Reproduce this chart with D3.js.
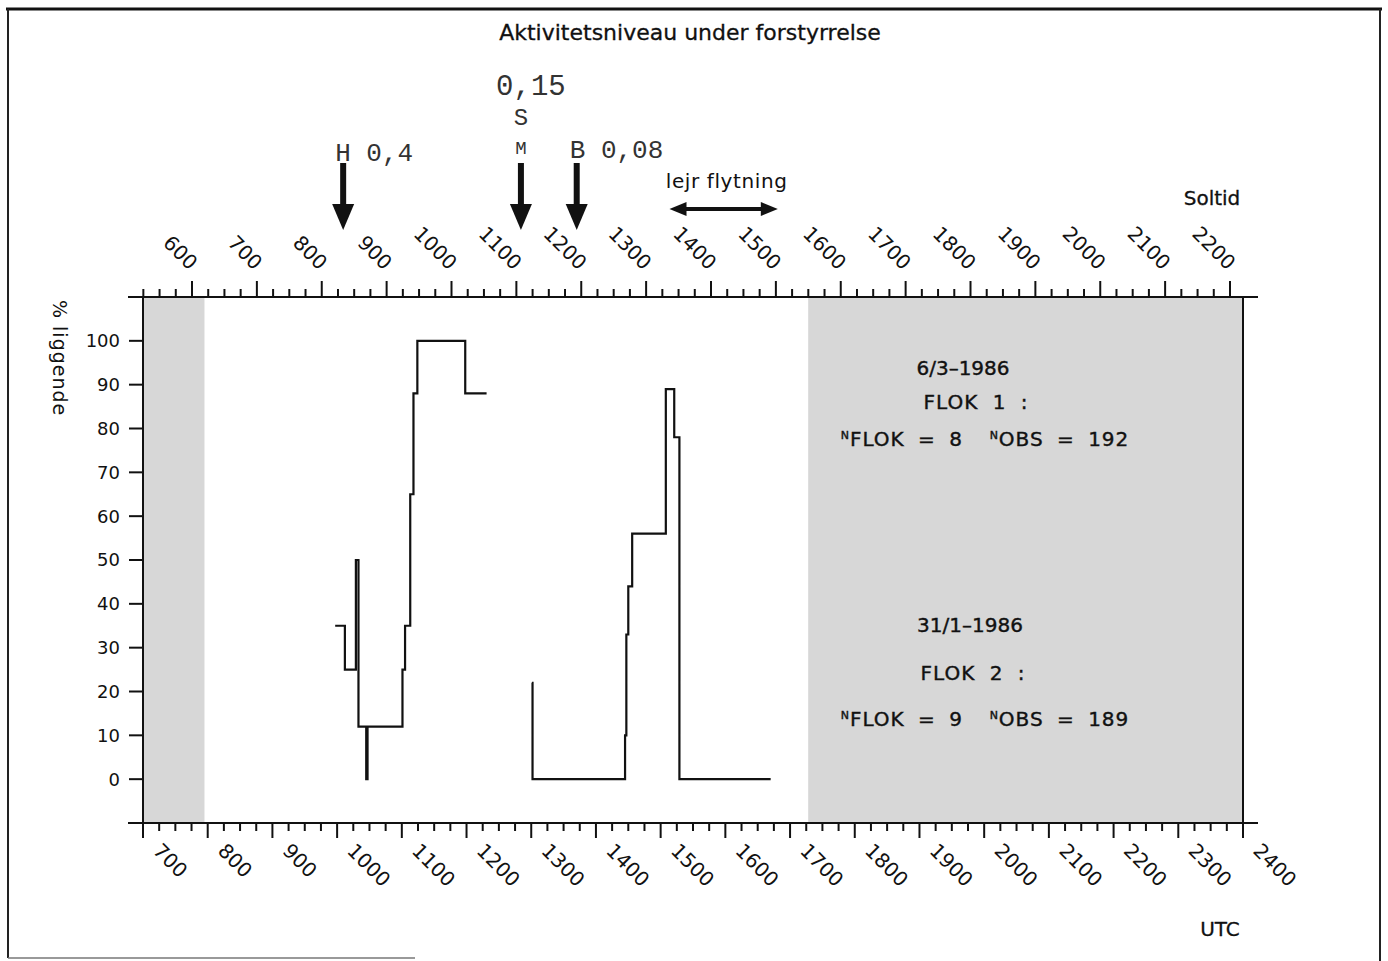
<!DOCTYPE html>
<html>
<head>
<meta charset="utf-8">
<script src="https://cdn.jsdelivr.net/npm/d3@7/dist/d3.min.js"></script>
<style>
  html, body { margin: 0; padding: 0; background: #fff; }
  svg { display: block; }
  text { font-family: "DejaVu Sans", sans-serif; fill: #111; }
</style>
</head>
<body>
<script>
// ---------- DATA ----------
const utcTicks = d3.range(700, 2401, 100);          // bottom axis labels (UTC)
const soltidTicks = d3.range(600, 2201, 100);       // top axis labels (Soltid)
const yTicks = d3.range(0, 101, 10);                // % liggende

// flock 1 step series (UTC time, % lying)
const timesA = [997, 1012, 1029, 1033, 1045, 1047, 1101, 1105, 1113, 1118, 1124, 1198, 1231];
const valuesA = [35, 25, 50, 12, 0, 12, 25, 35, 65, 88, 100, 88, 88];
// flock 2 step series
const timesB = [1301, 1302, 1445, 1447, 1450, 1456, 1508, 1521, 1529, 1670];
const valuesB = [22, 0, 10, 33, 44, 56, 89, 78, 0, 0];

// shaded (dark) periods, UTC
const nightStart = [700, 1728];
const nightEnd = [795, 2400];

// disturbance events (Soltid)
const eventTimes = [833, 1107, 1193];
const eventLabels = ["H 0,4", "", "B 0,08"];
// camp move interval (Soltid)
const campMove = [1336, 1503];

const infoLines1 = ["6/3\u20131986", "FLOK 1 :"];
const infoLines2 = ["31/1\u20131986", "FLOK 2 :"];
const flokN = [8, 9];
const obsN = [192, 189];

// ---------- LAYOUT ----------
const W = 1388, H = 961;
const svg = d3.select("body").append("svg").attr("width", W).attr("height", H);

const xB = d3.scaleLinear().domain([700, 2400]).range([143, 1243]);
const xT = d3.scaleLinear().domain([600, 2200]).range([192, 1230]);
const y = d3.scaleLinear().domain([-10, 110]).range([823, 297]);
const axTop = y(110), axBot = y(-10);

// frame
svg.append("line").attr("x1", 6).attr("x2", 1382).attr("y1", 9).attr("y2", 9).attr("stroke", "#111").attr("stroke-width", 3);
svg.append("line").attr("x1", 8).attr("x2", 8).attr("y1", 9).attr("y2", 958).attr("stroke", "#222").attr("stroke-width", 2);
svg.append("line").attr("x1", 1380).attr("x2", 1380).attr("y1", 9).attr("y2", 961).attr("stroke", "#222").attr("stroke-width", 2);
svg.append("line").attr("x1", 8).attr("x2", 415).attr("y1", 958).attr("y2", 958).attr("stroke", "#777").attr("stroke-width", 1.5);

// title
svg.append("text").attr("x", 690).attr("y", 40).attr("text-anchor", "middle")
  .style("font-size", "22px").style("stroke", "#111").style("stroke-width", "0.3px")
  .text("Aktivitetsniveau under forstyrrelse");

// shaded areas
svg.selectAll("rect.night").data(nightStart).join("rect").attr("class", "night")
  .attr("x", (d) => xB(d)).attr("width", (d, i) => xB(nightEnd[i]) - xB(d))
  .attr("y", axTop + 1).attr("height", axBot - axTop - 1).attr("fill", "#d7d7d7");

// axes lines
svg.append("line").attr("x1", 128).attr("x2", 1258).attr("y1", axTop).attr("y2", axTop).attr("stroke", "#111").attr("stroke-width", 2);
svg.append("line").attr("x1", 128).attr("x2", 1258).attr("y1", axBot).attr("y2", axBot).attr("stroke", "#111").attr("stroke-width", 2);
svg.append("line").attr("x1", xB(700)).attr("x2", xB(700)).attr("y1", axTop).attr("y2", axBot).attr("stroke", "#111").attr("stroke-width", 2);
svg.append("line").attr("x1", xB(2400)).attr("x2", xB(2400)).attr("y1", axTop).attr("y2", axBot).attr("stroke", "#111").attr("stroke-width", 2);

// bottom ticks
const bMinor = d3.range(700, 2401, 25);
svg.selectAll("line.bt").data(bMinor).join("line").attr("class", "bt")
  .attr("x1", (d) => xB(d)).attr("x2", (d) => xB(d))
  .attr("y1", axBot).attr("y2", (d) => axBot + (d % 100 === 0 ? 15 : 8))
  .attr("stroke", "#111").attr("stroke-width", 2);
svg.selectAll("text.bl").data(utcTicks).join("text").attr("class", "bl")
  .attr("transform", (d) => `translate(${xB(d) + 9},${axBot + 29}) rotate(45)`)
  .style("font-size", "20px").text((d) => d);

// top ticks
const tMinor = d3.range(525, 2201, 25);
svg.selectAll("line.tt").data(tMinor).join("line").attr("class", "tt")
  .attr("x1", (d) => xT(d)).attr("x2", (d) => xT(d))
  .attr("y1", axTop).attr("y2", (d) => axTop - (d % 100 === 0 ? 16 : 8))
  .attr("stroke", "#111").attr("stroke-width", 2);
svg.selectAll("text.tl").data(soltidTicks).join("text").attr("class", "tl")
  .attr("transform", (d) => `translate(${xT(d) - 3},${axTop - 26}) rotate(45)`)
  .attr("text-anchor", "end")
  .style("font-size", "20px").text((d) => d);

// y ticks
svg.selectAll("line.yt").data(yTicks).join("line").attr("class", "yt")
  .attr("x1", xB(700) - 14).attr("x2", xB(700))
  .attr("y1", (d) => y(d)).attr("y2", (d) => y(d))
  .attr("stroke", "#111").attr("stroke-width", 2);
svg.selectAll("text.yl").data(yTicks).join("text").attr("class", "yl")
  .attr("x", xB(700) - 23).attr("y", (d) => y(d)).attr("dy", "0.36em")
  .attr("text-anchor", "end").style("font-size", "18px").text((d) => d);

svg.append("text").attr("transform", "translate(53,300) rotate(90)")
  .style("font-size", "19px").style("letter-spacing", "1px").text("% liggende");

svg.append("text").attr("x", 1212).attr("y", 205).attr("text-anchor", "middle")
  .style("font-size", "20px").style("stroke", "#111").style("stroke-width", "0.3px").text("Soltid");
svg.append("text").attr("x", 1220).attr("y", 936).attr("text-anchor", "middle")
  .style("font-size", "20px").style("stroke", "#111").style("stroke-width", "0.3px").text("UTC");

// data lines
const line = d3.line().curve(d3.curveStepAfter).x((d) => xB(d[0])).y((d) => y(d[1]));
[[timesA, valuesA], [timesB, valuesB]].forEach(([t, v]) => {
  svg.append("path").datum(t.map((d, i) => [d, v[i]]))
    .attr("d", line).attr("fill", "none").attr("stroke", "#111").attr("stroke-width", 2.2);
});

// event arrows
const arrowTop = 163, arrowTip = 230, headLen = 26, headW = 11;
eventTimes.forEach((t) => {
  const x = xT(t);
  svg.append("rect").attr("x", x - 3).attr("y", arrowTop).attr("width", 6).attr("height", arrowTip - headLen - arrowTop + 2).attr("fill", "#111");
  svg.append("path").attr("d", `M${x - headW},${arrowTip - headLen} L${x + headW},${arrowTip - headLen} L${x},${arrowTip} Z`).attr("fill", "#111");
});
const mono = "'Liberation Mono', 'Courier New', monospace";
const monoText = (sel) => sel.style("font-family", mono).style("fill", "#333");
monoText(svg.append("text").attr("x", xT(eventTimes[0]) - 8).attr("y", 161).style("font-size", "26px")
  .attr("xml:space", "preserve").text(eventLabels[0]));
monoText(svg.append("text").attr("x", xT(eventTimes[2]) - 7).attr("y", 158).style("font-size", "26px")
  .attr("xml:space", "preserve").text(eventLabels[2]));
monoText(svg.append("text").attr("x", xT(eventTimes[1]) + 10).attr("y", 95).attr("text-anchor", "middle").style("font-size", "29px").text("0,15"));
monoText(svg.append("text").attr("x", xT(eventTimes[1])).attr("y", 125).attr("text-anchor", "middle").style("font-size", "24px").text("S"));
monoText(svg.append("text").attr("x", xT(eventTimes[1])).attr("y", 154).attr("text-anchor", "middle").style("font-size", "19px").text("M"));

// camp move double arrow
const cy = 209, x1 = xT(campMove[0]), x2 = xT(campMove[1]);
svg.append("line").attr("x1", x1 + 10).attr("x2", x2 - 10).attr("y1", cy).attr("y2", cy).attr("stroke", "#111").attr("stroke-width", 4);
svg.append("path").attr("d", `M${x1},${cy} L${x1 + 17},${cy - 7} L${x1 + 17},${cy + 7} Z`).attr("fill", "#111");
svg.append("path").attr("d", `M${x2},${cy} L${x2 - 17},${cy - 7} L${x2 - 17},${cy + 7} Z`).attr("fill", "#111");
svg.append("text").attr("x", (x1 + x2) / 2 + 3).attr("y", 188).attr("text-anchor", "middle")
  .style("font-size", "20px").style("letter-spacing", "0.6px").text("lejr flytning");

// info text
const infoStyle = (s) => s.style("font-size", "20px").style("stroke", "#111").style("stroke-width", "0.4px");
[[infoLines1, 375, 409, 446, 0], [infoLines2, 632, 680, 726, 1]].forEach(([lines, y1, y2, y3, k]) => {
  infoStyle(svg.append("text").attr("x", k ? 970 : 963).attr("y", y1).attr("text-anchor", "middle").text(lines[0]));
  infoStyle(svg.append("text").attr("x", k ? 973 : 976).attr("y", y2).attr("text-anchor", "middle")
    .style("letter-spacing", "1px").style("word-spacing", "7px").text(lines[1]));
  const t = infoStyle(svg.append("text").attr("x", 985).attr("y", y3).attr("text-anchor", "middle")
    .attr("xml:space", "preserve").style("letter-spacing", "1px").style("word-spacing", "6px"));
  t.append("tspan").style("font-size", "11px").attr("dy", "-7").text("N");
  t.append("tspan").attr("dy", "7").text(`FLOK = ${flokN[k]}  `);
  t.append("tspan").style("font-size", "11px").attr("dy", "-7").text("N");
  t.append("tspan").attr("dy", "7").text(`OBS = ${obsN[k]}`);
});
</script>
</body>
</html>
